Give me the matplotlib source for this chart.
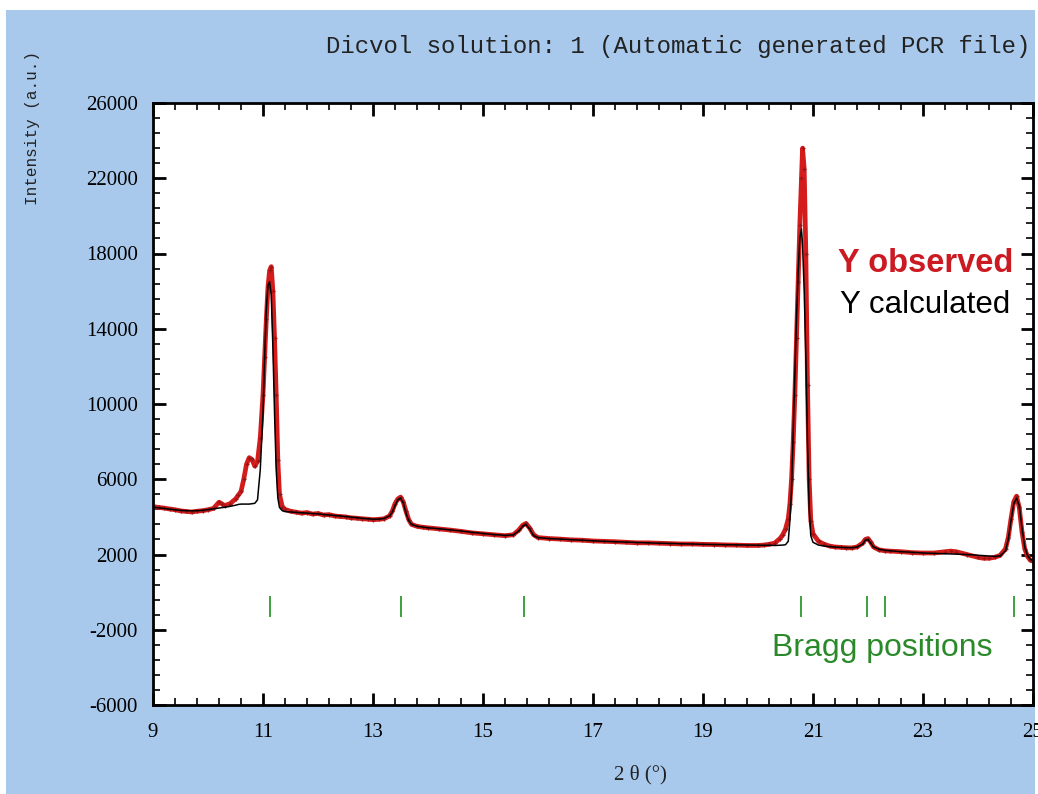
import numpy as np
import matplotlib.pyplot as plt
from matplotlib.patches import Rectangle
from matplotlib.ticker import FixedLocator

plt.rcParams['axes.unicode_minus'] = False

# 2theta grid with observed / calculated intensities
two_theta = [
    9.0, 9.1, 9.2, 9.3, 9.4, 9.5, 9.6, 9.7, 9.8, 9.9, 10.0, 10.1, 10.2, 10.25, 10.3, 10.4, 10.5, 10.55,
    10.60, 10.65, 10.70, 10.75, 10.80, 10.85, 10.90, 10.95, 11.00, 11.03, 11.06, 11.09, 11.12, 11.15,
    11.18, 11.21, 11.24, 11.27, 11.30, 11.35, 11.40,
    11.50, 11.60, 11.70, 11.80, 11.90, 12.00, 12.10, 12.20, 12.30, 12.40, 12.50, 12.60, 12.70, 12.80,
    12.90, 13.00, 13.10, 13.20, 13.30, 13.35, 13.40, 13.45, 13.50, 13.55, 13.60, 13.65, 13.70, 13.80,
    13.90, 14.00, 14.20, 14.40, 14.60, 14.80, 15.00, 15.20, 15.40, 15.55, 15.65, 15.72, 15.78, 15.85,
    15.92, 16.00, 16.20, 16.40, 16.60, 16.80, 17.00, 17.20, 17.40, 17.60, 17.80, 18.00, 18.20, 18.40,
    18.60, 18.80, 19.00, 19.20, 19.40, 19.60, 19.80, 20.00, 20.10, 20.20,
    20.30, 20.40, 20.45, 20.50, 20.55, 20.58, 20.61, 20.64, 20.67, 20.70, 20.73, 20.76, 20.79, 20.81,
    20.84, 20.87, 20.90, 20.93, 20.96, 21.00, 21.10, 21.20,
    21.30, 21.40, 21.50, 21.60, 21.70, 21.80, 21.90, 21.95, 22.00, 22.05, 22.10, 22.20, 22.30, 22.40,
    22.60, 22.80, 23.00, 23.20, 23.40, 23.50, 23.60, 23.80, 24.00, 24.10, 24.20, 24.30, 24.40, 24.50,
    24.55, 24.60, 24.65, 24.70, 24.75, 24.80, 24.85, 24.90, 24.95, 25.00,
]
y_observed = [
    4550, 4500, 4470, 4420, 4380, 4320, 4290, 4260, 4300, 4330, 4380, 4450, 4780, 4700, 4600, 4700, 4950, 5150,
    5350, 6000, 6800, 7150, 7050, 6700, 6950, 8200, 10500, 12500, 14500, 16200, 17100, 17300,
    16000, 13500, 10500, 7000, 5200, 4550, 4400,
    4300, 4250, 4200, 4230, 4150, 4180, 4100, 4120, 4050, 4020, 4000, 3950, 3930, 3900,
    3880, 3850, 3870, 3900, 4050, 4300, 4700, 4950, 5050, 4800, 4300, 3850, 3600, 3500,
    3450, 3420, 3360, 3300, 3230, 3150, 3100, 3050, 3000, 3050, 3300, 3550, 3650, 3400,
    3050, 2900, 2850, 2820, 2780, 2760, 2720, 2700, 2680, 2650, 2620, 2620, 2600, 2580,
    2560, 2560, 2540, 2530, 2510, 2500, 2480, 2480, 2500, 2540,
    2600, 2850, 3050, 3350, 3900, 4700, 6000, 8000, 10500, 13500, 16500, 19500, 22000, 23600,
    22500, 18000, 11000, 6000, 3800, 3100, 2700, 2550,
    2450, 2400, 2380, 2360, 2350, 2400, 2600, 2800, 2850, 2650, 2400, 2250, 2200, 2180,
    2150, 2100, 2080, 2080, 2150, 2180, 2150, 2000, 1850, 1800, 1800, 1850, 1950, 2300,
    2900, 3900, 4800, 5100, 4500, 3200, 2300, 1900, 1700, 1650,
]
y_calculated = [
    4520, 4480, 4450, 4410, 4380, 4350, 4330, 4320, 4330, 4350, 4390, 4430, 4470, 4490, 4510, 4560, 4620, 4660,
    4680, 4680, 4680, 4680, 4700, 4720, 4900, 6500, 9500, 12500, 15000, 16300, 16500, 15800,
    13000, 9500, 6500, 5000, 4500, 4330, 4280,
    4260, 4240, 4220, 4200, 4180, 4160, 4130, 4100, 4080, 4050, 4020, 3990, 3960, 3930,
    3900, 3880, 3880, 3920, 4050, 4250, 4600, 4900, 5000, 4750, 4200, 3800, 3600, 3500,
    3460, 3420, 3370, 3310, 3250, 3180, 3120, 3060, 3020, 3040, 3250, 3500, 3600, 3350,
    3000, 2900, 2850, 2820, 2790, 2760, 2730, 2700, 2680, 2660, 2640, 2620, 2600, 2590,
    2570, 2560, 2540, 2530, 2520, 2510, 2500, 2490, 2490, 2490,
    2480, 2490, 2500, 2520, 2700, 3800, 5500, 8600, 11800, 14600, 17000, 18800, 19300, 18500,
    16000, 12500, 8000, 4500, 3000, 2650, 2500, 2450,
    2420, 2400, 2380, 2370, 2360, 2400, 2550, 2750, 2800, 2600, 2400, 2280, 2230, 2200,
    2150, 2120, 2080, 2060, 2040, 2030, 2020, 2000, 1960, 1940, 1920, 1900, 1920, 2200,
    2800, 3800, 4700, 5000, 4600, 3400, 2400, 1950, 1750, 1650,
]

bragg_positions = [11.13, 13.51, 15.75, 20.78, 21.98, 22.31, 24.65]

W, H = 1038, 794
fig = plt.figure(figsize=(W / 100, H / 100), dpi=100, facecolor='white')
fig.patches.append(Rectangle((6 / W, 0), 1029 / W, 1 - 10 / H, transform=fig.transFigure,
                             facecolor='#a8c9ec', edgecolor='none', zorder=-5))

ax = fig.add_axes([153 / W, 1 - 705 / H, 880 / W, 602 / H])
ax.set_facecolor('white')
ax.set_zorder(1)

ax.plot(two_theta, y_observed, color='#d41c1c', lw=3.4, solid_joinstyle='round', zorder=2)
ax.plot(two_theta, y_observed, ls='none', marker='+', ms=3.5, mew=0.9, color='#9a1515', zorder=2.5)
ax.plot(two_theta, y_calculated, color='black', lw=1.1, zorder=3)

# reflection markers
ax.vlines(bragg_positions, -1300, -200, color='#2f9a2f', lw=1.3, zorder=3)

ax.set_xlim(9, 25)
ax.set_ylim(-6000, 26000)
ax.xaxis.set_major_locator(FixedLocator(np.arange(9, 25.01, 2)))
ax.xaxis.set_minor_locator(FixedLocator(np.arange(9, 25.01, 0.4)))
ax.yaxis.set_major_locator(FixedLocator(np.arange(-6000, 26001, 4000)))
ax.yaxis.set_minor_locator(FixedLocator(np.arange(-6000, 26001, 800)))
ax.tick_params(which='both', direction='in', top=True, right=True, colors='black')
ax.tick_params(which='major', length=9, width=2)
ax.tick_params(which='minor', length=5, width=1.2)
ax.tick_params(axis='x', which='major', pad=13)
ax.tick_params(axis='y', which='major', pad=11)
ax.set_xticklabels([str(v) for v in range(9, 26, 2)])
ax.set_yticklabels([str(v) for v in range(-6000, 26001, 4000)])
for lab in ax.get_xticklabels() + ax.get_yticklabels():
    lab.set_fontfamily('Liberation Serif')
    lab.set_fontsize(15)
for sp in ax.spines.values():
    sp.set_linewidth(2)

fig.text(1030 / W, 1 - 46 / H, 'Dicvol solution: 1 (Automatic generated PCR file)',
         ha='right', va='center', family='Liberation Mono', fontsize=17.3, color='#222222')
fig.text(33 / W, 1 - 128 / H, 'Intensity (a.u.)', rotation=90, ha='center', va='center',
         family='Liberation Mono', fontsize=11.5, color='#222222')
fig.text(640 / W, 1 - 775 / H, '2 θ (°)', ha='center', va='center',
         family='Liberation Serif', fontsize=15, color='#222222')

fig.text(838 / W, 1 - 263 / H, 'Y observed', ha='left', va='center', family='Liberation Sans',
         fontsize=23.5, fontweight='bold', color='#cc1a22')
fig.text(840 / W, 1 - 305 / H, 'Y calculated', ha='left', va='center', family='Liberation Sans',
         fontsize=22.5, color='black')
fig.text(772 / W, 1 - 648 / H, 'Bragg positions', ha='left', va='center', family='Liberation Sans',
         fontsize=23, color='#2a8a2a')

fig.savefig('out.png', dpi=100, facecolor=fig.get_facecolor())
